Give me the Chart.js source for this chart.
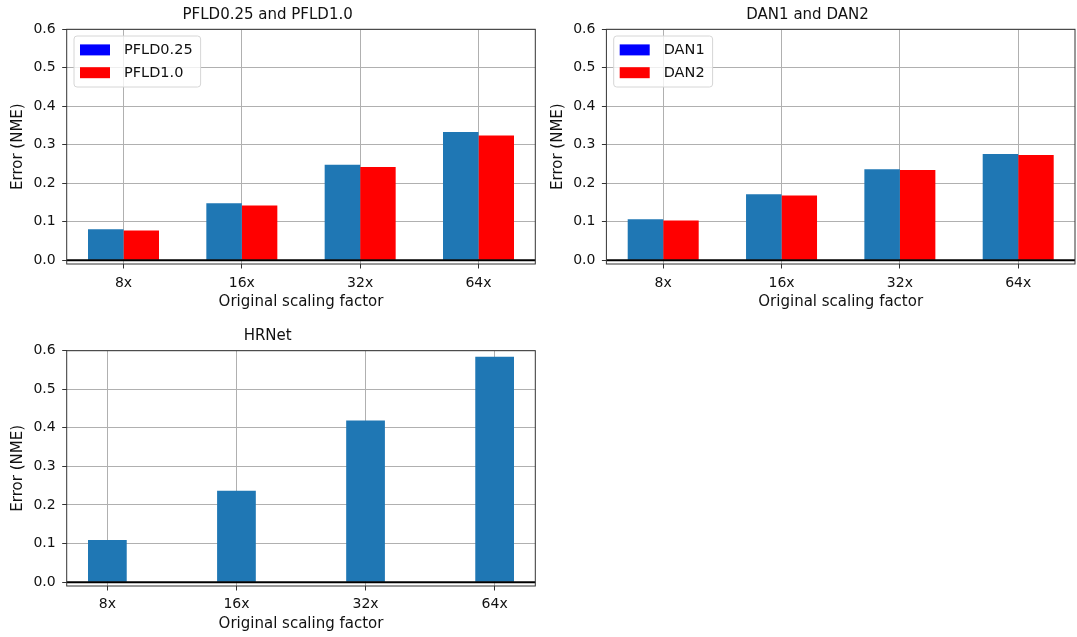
<!DOCTYPE html>
<html lang="en">
<head>
    <meta charset="UTF-8">
    <title>NME vs original scaling factor</title>
    <script src="https://cdn.jsdelivr.net/npm/chart.js"></script>
    <style>
        body { margin: 0; background: #fff; }
        .panel { position: absolute; }
    </style>
</head>
<body>
    <canvas id="pfldChart" class="panel" width="540" height="318" style="left:0;top:0"></canvas>
    <canvas id="danChart" class="panel" width="537" height="318" style="left:540px;top:0"></canvas>
    <canvas id="hrnetChart" class="panel" width="540" height="319" style="left:0;top:318px"></canvas>

    <script>
        // values
        const scaleLabels = ['8x', '16x', '32x', '64x'];
        const pfld025 = [0.080, 0.148, 0.248, 0.333];
        const pfld10 = [0.077, 0.142, 0.242, 0.324];
        const dan1 = [0.106, 0.171, 0.236, 0.276];
        const dan2 = [0.103, 0.168, 0.234, 0.273];
        const hrnet = [0.109, 0.237, 0.419, 0.584];
        const yTicks = [0.0, 0.1, 0.2, 0.3, 0.4, 0.5, 0.6];

        const barBlue = '#1f77b4';
        const barRed = '#ff0000';
        const legendColors = ['#0000ff', '#ff0000'];

        Chart.defaults.font.family = "'DejaVu Sans', sans-serif";
        Chart.defaults.color = '#111';

        function toPoints(values) {
            return values.map((v, i) => ({ x: i, y: v }));
        }

        // spines all round plus the black zero line
        const framePlugin = {
            id: 'frame',
            afterDatasetsDraw(chart) {
                const { ctx, chartArea: a } = chart;
                const y0 = chart.scales.y.getPixelForValue(0);
                ctx.save();
                ctx.strokeStyle = '#000';
                ctx.lineWidth = 2;
                ctx.beginPath();
                ctx.moveTo(a.left, y0);
                ctx.lineTo(a.right, y0);
                ctx.stroke();
                ctx.strokeStyle = '#333';
                ctx.lineWidth = 1;
                ctx.strokeRect(a.left, a.top, a.right - a.left, a.bottom - a.top);
                ctx.restore();
            }
        };

        // matplotlib style legend box in the upper left corner
        const boxLegendPlugin = {
            id: 'boxLegend',
            afterDraw(chart) {
                const opts = chart.options.plugins.boxLegend;
                if (!opts || !opts.display) return;
                const { ctx, chartArea: a } = chart;
                const labels = chart.data.datasets.map(d => d.label);
                ctx.save();
                ctx.font = '14.5px "DejaVu Sans"';
                const textW = Math.max(...labels.map(l => ctx.measureText(l).width));
                const x = a.left + 7.3, y = a.top + 6.7;
                const w = 6 + 30 + 14 + textW + 8, h = 51;
                ctx.beginPath();
                ctx.roundRect(x, y, w, h, 3);
                ctx.fillStyle = 'rgba(255,255,255,0.8)';
                ctx.fill();
                ctx.strokeStyle = '#d6d6d6';
                ctx.lineWidth = 1;
                ctx.stroke();
                labels.forEach((l, i) => {
                    const cy = y + 13.9 + i * 22.8;
                    ctx.fillStyle = legendColors[i];
                    ctx.fillRect(x + 6, cy - 5.5, 30, 11);
                    ctx.fillStyle = '#111';
                    ctx.textBaseline = 'middle';
                    ctx.fillText(l, x + 50, cy + 0.5);
                });
                ctx.restore();
            }
        };

        function makeChart(id, title, datasets, cfg) {
            return new Chart(document.getElementById(id).getContext('2d'), {
                type: 'bar',
                data: { datasets },
                options: {
                    responsive: false,
                    animation: false,
                    devicePixelRatio: 1,
                    layout: { padding: { left: 0, right: cfg.padRight, top: 0, bottom: 0 } },
                    datasets: {
                        bar: {
                            categoryPercentage: cfg.groupWidth,
                            barPercentage: 1.0,
                            borderWidth: 0
                        }
                    },
                    plugins: {
                        legend: { display: false },
                        tooltip: { enabled: false },
                        title: {
                            display: true,
                            text: title,
                            color: '#111',
                            font: { size: 15, weight: 'normal' },
                            padding: { top: cfg.titleTop, bottom: cfg.titleBottom }
                        },
                        boxLegend: { display: cfg.legend }
                    },
                    scales: {
                        x: {
                            type: 'linear',
                            min: cfg.xMin,
                            max: cfg.xMax,
                            offset: false,
                            afterBuildTicks: s => { s.ticks = scaleLabels.map((_, i) => ({ value: i })); },
                            afterFit: s => { s.height = cfg.xHeight; },
                            ticks: {
                                autoSkip: false,
                                maxRotation: 0,
                                padding: cfg.xTickPad,
                                font: { size: 14 },
                                callback: v => scaleLabels[v]
                            },
                            grid: {
                                offset: false,
                                color: '#b0b0b0',
                                lineWidth: 1,
                                tickColor: '#333',
                                tickLength: 4.5
                            },
                            border: { display: false },
                            title: {
                                display: true,
                                text: 'Original scaling factor',
                                font: { size: 15 },
                                padding: { top: 0, bottom: cfg.xTitlePad }
                            }
                        },
                        y: {
                            min: -0.01,
                            max: 0.6,
                            afterBuildTicks: s => { s.ticks = yTicks.map(v => ({ value: v })); },
                            afterFit: s => { s.width = cfg.yWidth; },
                            ticks: {
                                padding: 6.5,
                                font: { size: 14 },
                                callback: v => v.toFixed(1)
                            },
                            grid: {
                                color: '#b0b0b0',
                                lineWidth: 1,
                                tickColor: '#333',
                                tickLength: 4.5
                            },
                            border: { display: false },
                            title: {
                                display: true,
                                text: 'Error (NME)',
                                font: { size: 15 },
                                padding: { top: 9.5, bottom: 0 }
                            }
                        }
                    }
                },
                plugins: [framePlugin, boxLegendPlugin]
            });
        }

        makeChart('pfldChart', 'PFLD0.25 and PFLD1.0', [
            { label: 'PFLD0.25', data: toPoints(pfld025), backgroundColor: barBlue },
            { label: 'PFLD1.0', data: toPoints(pfld10), backgroundColor: barRed }
        ], {
            padRight: 4.7, titleTop: 6, titleBottom: 5.3, xHeight: 54, xTickPad: 6.2, xTitlePad: 6.5,
            yWidth: 66.7, xMin: -0.48, xMax: 3.48, groupWidth: 0.6, legend: true
        });

        makeChart('danChart', 'DAN1 and DAN2', [
            { label: 'DAN1', data: toPoints(dan1), backgroundColor: barBlue },
            { label: 'DAN2', data: toPoints(dan2), backgroundColor: barRed }
        ], {
            padRight: 2, titleTop: 6, titleBottom: 5.3, xHeight: 54, xTickPad: 6.2, xTitlePad: 6.5,
            yWidth: 66.4, xMin: -0.48, xMax: 3.48, groupWidth: 0.6, legend: true
        });

        makeChart('hrnetChart', 'HRNet', [
            { label: 'HRNet', data: toPoints(hrnet), backgroundColor: barBlue }
        ], {
            padRight: 4.7, titleTop: 9.5, titleBottom: 5.2, xHeight: 51, xTickPad: 5, xTitlePad: 3.5,
            yWidth: 66.7, xMin: -0.315, xMax: 3.315, groupWidth: 0.3, legend: false
        });
    </script>
</body>
</html>
